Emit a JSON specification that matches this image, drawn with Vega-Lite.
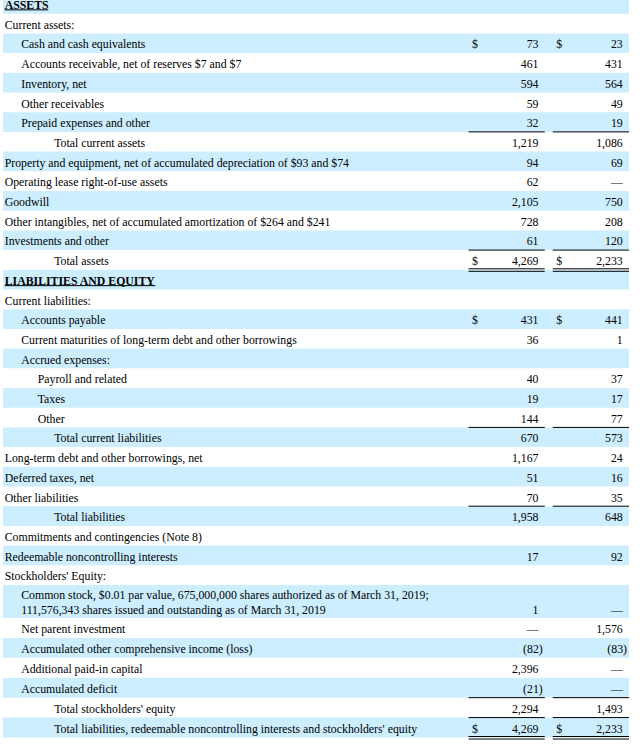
{
  "$schema": "https://vega.github.io/schema/vega-lite/v6.json",
  "autosize": {"type": "none"},
  "padding": {"left": 3, "top": 0, "right": 0, "bottom": 0},
  "width": 626,
  "height": 744,
  "config": {"view": {"stroke": null}, "text": {"font": "Liberation Serif", "fontSize": 11.8, "color": "#000000", "baseline": "middle", "dy": 1.2}},
  "datasets": {
    "rows": [
      {"line": 0, "label": "ASSETS", "level": 0, "kind": "header"},
      {"line": 1, "label": "Current assets:", "level": 0, "kind": "section"},
      {"line": 2, "label": "Cash and cash equivalents", "level": 1, "kind": "item", "c2019": "73", "c2018": "23", "dollar": true},
      {"line": 3, "label": "Accounts receivable, net of reserves $7 and $7", "level": 1, "kind": "item", "c2019": "461", "c2018": "431"},
      {"line": 4, "label": "Inventory, net", "level": 1, "kind": "item", "c2019": "594", "c2018": "564"},
      {"line": 5, "label": "Other receivables", "level": 1, "kind": "item", "c2019": "59", "c2018": "49"},
      {"line": 6, "label": "Prepaid expenses and other", "level": 1, "kind": "item", "c2019": "32", "c2018": "19"},
      {"line": 7, "label": "Total current assets", "level": 3, "kind": "subtotal", "c2019": "1,219", "c2018": "1,086"},
      {"line": 8, "label": "Property and equipment, net of accumulated depreciation of $93 and $74", "level": 0, "kind": "item", "c2019": "94", "c2018": "69"},
      {"line": 9, "label": "Operating lease right-of-use assets", "level": 0, "kind": "item", "c2019": "62", "c2018": "—"},
      {"line": 10, "label": "Goodwill", "level": 0, "kind": "item", "c2019": "2,105", "c2018": "750"},
      {"line": 11, "label": "Other intangibles, net of accumulated amortization of $264 and $241", "level": 0, "kind": "item", "c2019": "728", "c2018": "208"},
      {"line": 12, "label": "Investments and other", "level": 0, "kind": "item", "c2019": "61", "c2018": "120"},
      {"line": 13, "label": "Total assets", "level": 3, "kind": "total", "c2019": "4,269", "c2018": "2,233", "dollar": true},
      {"line": 14, "label": "LIABILITIES AND EQUITY", "level": 0, "kind": "header"},
      {"line": 15, "label": "Current liabilities:", "level": 0, "kind": "section"},
      {"line": 16, "label": "Accounts payable", "level": 1, "kind": "item", "c2019": "431", "c2018": "441", "dollar": true},
      {"line": 17, "label": "Current maturities of long-term debt and other borrowings", "level": 1, "kind": "item", "c2019": "36", "c2018": "1"},
      {"line": 18, "label": "Accrued expenses:", "level": 1, "kind": "section"},
      {"line": 19, "label": "Payroll and related", "level": 2, "kind": "item", "c2019": "40", "c2018": "37"},
      {"line": 20, "label": "Taxes", "level": 2, "kind": "item", "c2019": "19", "c2018": "17"},
      {"line": 21, "label": "Other", "level": 2, "kind": "item", "c2019": "144", "c2018": "77"},
      {"line": 22, "label": "Total current liabilities", "level": 3, "kind": "subtotal", "c2019": "670", "c2018": "573"},
      {"line": 23, "label": "Long-term debt and other borrowings, net", "level": 0, "kind": "item", "c2019": "1,167", "c2018": "24"},
      {"line": 24, "label": "Deferred taxes, net", "level": 0, "kind": "item", "c2019": "51", "c2018": "16"},
      {"line": 25, "label": "Other liabilities", "level": 0, "kind": "item", "c2019": "70", "c2018": "35"},
      {"line": 26, "label": "Total liabilities", "level": 3, "kind": "subtotal", "c2019": "1,958", "c2018": "648"},
      {"line": 27, "label": "Commitments and contingencies (Note 8)", "level": 0, "kind": "section"},
      {"line": 28, "label": "Redeemable noncontrolling interests", "level": 0, "kind": "item", "c2019": "17", "c2018": "92"},
      {"line": 29, "label": "Stockholders' Equity:", "level": 0, "kind": "section"},
      {"line": 30, "label": "Common stock, $0.01 par value, 675,000,000 shares authorized as of March 31, 2019;\n111,576,343 shares issued and outstanding as of March 31, 2019", "level": 1, "kind": "item", "c2019": "1", "c2018": "—"},
      {"line": 31, "label": "Net parent investment", "level": 1, "kind": "item", "c2019": "—", "c2018": "1,576"},
      {"line": 32, "label": "Accumulated other comprehensive income (loss)", "level": 1, "kind": "item", "c2019": "(82)", "c2018": "(83)"},
      {"line": 33, "label": "Additional paid-in capital", "level": 1, "kind": "item", "c2019": "2,396", "c2018": "—"},
      {"line": 34, "label": "Accumulated deficit", "level": 1, "kind": "item", "c2019": "(21)", "c2018": "—"},
      {"line": 35, "label": "Total stockholders' equity", "level": 3, "kind": "subtotal", "c2019": "2,294", "c2018": "1,493"},
      {"line": 36, "label": "Total liabilities, redeemable noncontrolling interests and stockholders' equity", "level": 3, "kind": "total", "c2019": "4,269", "c2018": "2,233", "dollar": true}
    ]
  },
  "data": {"name": "rows"},
  "resolve": {"scale": {"x": "independent", "y": "independent"}},
  "layer": [
    {
      "transform": [{"filter": "datum.line <= 29"}],
      "encoding": {
        "y": {"field": "line", "type": "ordinal", "axis": null,
              "scale": {"type": "band", "domain": [0,1,2,3,4,5,6,7,8,9,10,11,12,13,14,15,16,17,18,19,20,21,22,23,24,25,26,27,28,29], "range": [-6, 585], "paddingInner": 0, "paddingOuter": 0}}
      },
      "resolve": {"scale": {"x": "independent"}},
      "layer": [
        {"transform": [{"filter": "datum.line % 2 == 0"}], "mark": {"type": "rect", "color": "#CCEEFF"}},
        {"transform": [{"filter": "datum.kind != 'header'"}],
         "mark": {"type": "text", "align": "left"},
         "encoding": {"x": {"field": "level", "type": "quantitative", "axis": null, "scale": {"domain": [0, 3], "range": [1.7, 51.2], "zero": false, "nice": false}}, "text": {"field": "label"}}},
        {"transform": [{"filter": "datum.kind == 'header'"}],
         "mark": {"type": "text", "align": "left", "fontWeight": "bold"},
         "encoding": {"x": {"field": "level", "type": "quantitative", "axis": null, "scale": {"domain": [0, 3], "range": [1.7, 51.2], "zero": false, "nice": false}}, "text": {"field": "label"}}},
        {"transform": [{"filter": "datum.line == 0"}],
         "mark": {"type": "rule", "color": "#000000", "strokeWidth": 1, "yOffset": 6},
         "encoding": {"x": {"field": "level", "type": "quantitative", "axis": null, "scale": {"domain": [0, 3], "range": [1.7, 51.2], "zero": false, "nice": false}}, "x2": {"datum": 2.64}}},
        {"transform": [{"filter": "datum.line == 14"}],
         "mark": {"type": "rule", "color": "#000000", "strokeWidth": 1, "yOffset": 6},
         "encoding": {"x": {"field": "level", "type": "quantitative", "axis": null, "scale": {"domain": [0, 3], "range": [1.7, 51.2], "zero": false, "nice": false}}, "x2": {"datum": 9.13}}},
        {"transform": [{"filter": "datum.dollar == true"}, {"fold": ["c2019", "c2018"], "as": ["period", "amount"]}],
         "mark": {"type": "text", "align": "left", "dx": 3.5},
         "encoding": {"x": {"field": "period", "type": "nominal", "bandPosition": 0, "axis": null, "scale": {"type": "band", "domain": ["c2019", "c2018"], "range": [465.5, 626], "paddingInner": 0.095, "paddingOuter": 0}}, "text": {"value": "$"}}},
        {"transform": [{"fold": ["c2019", "c2018"], "as": ["period", "amount"]}, {"filter": "isValid(datum.amount) && !test(/^[(]/, datum.amount)"}],
         "mark": {"type": "text", "align": "right", "dx": -6.3},
         "encoding": {"x": {"field": "period", "type": "nominal", "bandPosition": 1, "axis": null, "scale": {"type": "band", "domain": ["c2019", "c2018"], "range": [465.5, 626], "paddingInner": 0.095, "paddingOuter": 0}}, "text": {"field": "amount"}}},
        {"transform": [{"filter": "datum.kind == 'subtotal' || datum.kind == 'total'"}, {"fold": ["c2019", "c2018"], "as": ["period", "amount"]}],
         "mark": {"type": "rule", "color": "#000000", "strokeWidth": 1},
         "encoding": {"x": {"field": "period", "type": "nominal", "bandPosition": 0, "axis": null, "scale": {"type": "band", "domain": ["c2019", "c2018"], "range": [465.5, 626], "paddingInner": 0.095, "paddingOuter": 0}},
                      "x2": {"field": "period", "bandPosition": 1},
                      "y": {"field": "line", "type": "ordinal", "bandPosition": 0, "axis": null, "scale": {"type": "band", "domain": [0,1,2,3,4,5,6,7,8,9,10,11,12,13,14,15,16,17,18,19,20,21,22,23,24,25,26,27,28,29], "range": [-6, 585], "paddingInner": 0, "paddingOuter": 0}}}},
        {"transform": [{"filter": "datum.kind == 'total'"}, {"fold": ["c2019", "c2018"], "as": ["period", "amount"]}],
         "mark": {"type": "rule", "color": "#000000", "strokeWidth": 1, "yOffset": -1},
         "encoding": {"x": {"field": "period", "type": "nominal", "bandPosition": 0, "axis": null, "scale": {"type": "band", "domain": ["c2019", "c2018"], "range": [465.5, 626], "paddingInner": 0.095, "paddingOuter": 0}},
                      "x2": {"field": "period", "bandPosition": 1},
                      "y": {"field": "line", "type": "ordinal", "bandPosition": 1, "axis": null, "scale": {"type": "band", "domain": [0,1,2,3,4,5,6,7,8,9,10,11,12,13,14,15,16,17,18,19,20,21,22,23,24,25,26,27,28,29], "range": [-6, 585], "paddingInner": 0, "paddingOuter": 0}}}},
        {"transform": [{"filter": "datum.kind == 'total'"}, {"fold": ["c2019", "c2018"], "as": ["period", "amount"]}],
         "mark": {"type": "rule", "color": "#000000", "strokeWidth": 1, "yOffset": 1.5},
         "encoding": {"x": {"field": "period", "type": "nominal", "bandPosition": 0, "axis": null, "scale": {"type": "band", "domain": ["c2019", "c2018"], "range": [465.5, 626], "paddingInner": 0.095, "paddingOuter": 0}},
                      "x2": {"field": "period", "bandPosition": 1},
                      "y": {"field": "line", "type": "ordinal", "bandPosition": 1, "axis": null, "scale": {"type": "band", "domain": [0,1,2,3,4,5,6,7,8,9,10,11,12,13,14,15,16,17,18,19,20,21,22,23,24,25,26,27,28,29], "range": [-6, 585], "paddingInner": 0, "paddingOuter": 0}}}}
      ]
    },
    {
      "transform": [{"filter": "datum.line == 30"}],
      "encoding": {
        "y": {"field": "line", "type": "ordinal", "axis": null,
              "scale": {"type": "band", "domain": [30], "range": [585, 618], "paddingInner": 0, "paddingOuter": 0}}
      },
      "resolve": {"scale": {"x": "independent"}},
      "layer": [
        {"mark": {"type": "rect", "color": "#CCEEFF"}},
        {"mark": {"type": "text", "align": "left", "lineBreak": "\n", "lineHeight": 15, "yOffset": -7.5},
         "encoding": {"x": {"field": "level", "type": "quantitative", "axis": null, "scale": {"domain": [0, 3], "range": [1.7, 51.2], "zero": false, "nice": false}}, "text": {"field": "label"}}},
        {"transform": [{"fold": ["c2019", "c2018"], "as": ["period", "amount"]}, {"filter": "isValid(datum.amount)"}],
         "mark": {"type": "text", "align": "right", "dx": -6.3, "yOffset": 6.8},
         "encoding": {"x": {"field": "period", "type": "nominal", "bandPosition": 1, "axis": null, "scale": {"type": "band", "domain": ["c2019", "c2018"], "range": [465.5, 626], "paddingInner": 0.095, "paddingOuter": 0}}, "text": {"field": "amount"}}}
      ]
    },
    {
      "transform": [{"filter": "datum.line >= 31"}],
      "encoding": {
        "y": {"field": "line", "type": "ordinal", "axis": null,
              "scale": {"type": "band", "domain": [31,32,33,34,35,36], "range": [618, 737.5], "paddingInner": 0, "paddingOuter": 0}}
      },
      "resolve": {"scale": {"x": "independent"}},
      "layer": [
        {"transform": [{"filter": "datum.line % 2 == 0"}], "mark": {"type": "rect", "color": "#CCEEFF"}},
        {"mark": {"type": "text", "align": "left"},
         "encoding": {"x": {"field": "level", "type": "quantitative", "axis": null, "scale": {"domain": [0, 3], "range": [1.7, 51.2], "zero": false, "nice": false}}, "text": {"field": "label"}}},
        {"transform": [{"filter": "datum.dollar == true"}, {"fold": ["c2019", "c2018"], "as": ["period", "amount"]}],
         "mark": {"type": "text", "align": "left", "dx": 3.5},
         "encoding": {"x": {"field": "period", "type": "nominal", "bandPosition": 0, "axis": null, "scale": {"type": "band", "domain": ["c2019", "c2018"], "range": [465.5, 626], "paddingInner": 0.095, "paddingOuter": 0}}, "text": {"value": "$"}}},
        {"transform": [{"fold": ["c2019", "c2018"], "as": ["period", "amount"]}, {"filter": "isValid(datum.amount) && !test(/^[(]/, datum.amount)"}],
         "mark": {"type": "text", "align": "right", "dx": -6.3},
         "encoding": {"x": {"field": "period", "type": "nominal", "bandPosition": 1, "axis": null, "scale": {"type": "band", "domain": ["c2019", "c2018"], "range": [465.5, 626], "paddingInner": 0.095, "paddingOuter": 0}}, "text": {"field": "amount"}}},
        {"transform": [{"fold": ["c2019", "c2018"], "as": ["period", "amount"]}, {"filter": "isValid(datum.amount) && test(/^[(]/, datum.amount)"}],
         "mark": {"type": "text", "align": "right", "dx": -2},
         "encoding": {"x": {"field": "period", "type": "nominal", "bandPosition": 1, "axis": null, "scale": {"type": "band", "domain": ["c2019", "c2018"], "range": [465.5, 626], "paddingInner": 0.095, "paddingOuter": 0}}, "text": {"field": "amount"}}},
        {"transform": [{"filter": "datum.kind == 'subtotal' || datum.kind == 'total'"}, {"fold": ["c2019", "c2018"], "as": ["period", "amount"]}],
         "mark": {"type": "rule", "color": "#000000", "strokeWidth": 1},
         "encoding": {"x": {"field": "period", "type": "nominal", "bandPosition": 0, "axis": null, "scale": {"type": "band", "domain": ["c2019", "c2018"], "range": [465.5, 626], "paddingInner": 0.095, "paddingOuter": 0}},
                      "x2": {"field": "period", "bandPosition": 1},
                      "y": {"field": "line", "type": "ordinal", "bandPosition": 0, "axis": null, "scale": {"type": "band", "domain": [31,32,33,34,35,36], "range": [618, 737.5], "paddingInner": 0, "paddingOuter": 0}}}},
        {"transform": [{"filter": "datum.kind == 'total'"}, {"fold": ["c2019", "c2018"], "as": ["period", "amount"]}],
         "mark": {"type": "rule", "color": "#000000", "strokeWidth": 1, "yOffset": -1},
         "encoding": {"x": {"field": "period", "type": "nominal", "bandPosition": 0, "axis": null, "scale": {"type": "band", "domain": ["c2019", "c2018"], "range": [465.5, 626], "paddingInner": 0.095, "paddingOuter": 0}},
                      "x2": {"field": "period", "bandPosition": 1},
                      "y": {"field": "line", "type": "ordinal", "bandPosition": 1, "axis": null, "scale": {"type": "band", "domain": [31,32,33,34,35,36], "range": [618, 737.5], "paddingInner": 0, "paddingOuter": 0}}}},
        {"transform": [{"filter": "datum.kind == 'total'"}, {"fold": ["c2019", "c2018"], "as": ["period", "amount"]}],
         "mark": {"type": "rule", "color": "#000000", "strokeWidth": 1, "yOffset": 1.5},
         "encoding": {"x": {"field": "period", "type": "nominal", "bandPosition": 0, "axis": null, "scale": {"type": "band", "domain": ["c2019", "c2018"], "range": [465.5, 626], "paddingInner": 0.095, "paddingOuter": 0}},
                      "x2": {"field": "period", "bandPosition": 1},
                      "y": {"field": "line", "type": "ordinal", "bandPosition": 1, "axis": null, "scale": {"type": "band", "domain": [31,32,33,34,35,36], "range": [618, 737.5], "paddingInner": 0, "paddingOuter": 0}}}}
      ]
    }
  ]
}
